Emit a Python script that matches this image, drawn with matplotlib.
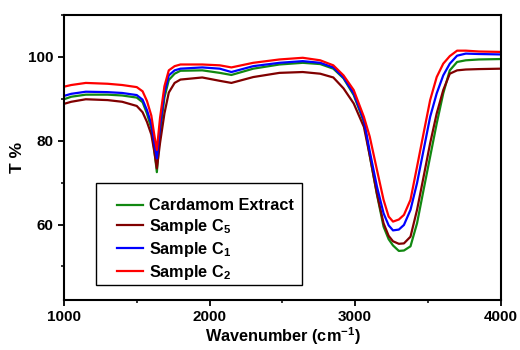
import numpy as np
import matplotlib
matplotlib.use("Agg")
import matplotlib.pyplot as plt
from matplotlib.ticker import MultipleLocator
from matplotlib.patches import Rectangle

plt.rcParams['font.family'] = ['Liberation Sans', 'DejaVu Sans']
plt.rcParams['font.weight'] = 'bold'
plt.rcParams['mathtext.fontset'] = 'custom'
plt.rcParams['mathtext.rm'] = 'Liberation Sans:bold'
plt.rcParams['mathtext.bf'] = 'Liberation Sans:bold'

wavenumber = [1000, 1050, 1150, 1300, 1400, 1500, 1540, 1570, 1600, 1620,
              1638, 1660, 1690, 1720, 1760, 1800, 1950, 2070, 2150, 2300,
              2480, 2640, 2760, 2850, 2920, 2990, 3060, 3100, 3150, 3195,
              3230, 3260, 3300, 3335, 3380, 3425, 3470, 3515, 3560, 3605,
              3650, 3700, 3760, 3850, 4000]

cardamom = [89.9, 90.5, 91.0, 91.0, 90.8, 90.3, 89.2, 86.5, 83.0, 78.0,
            72.5, 82.0, 90.3, 94.5, 96.0, 96.7, 96.8, 96.2, 95.7, 97.2,
            98.2, 98.6, 98.3, 97.2, 94.9, 90.9, 84.5, 76.5, 67.1, 59.5,
            56.5, 55.0, 53.7, 53.8, 54.8, 60.3, 68.3, 76.2, 84.1, 91.3,
            96.8, 98.8, 99.2, 99.4, 99.5]

sample_c5 = [88.8, 89.3, 89.9, 89.7, 89.3, 88.3, 86.8, 84.5, 81.5, 77.5,
             73.4, 79.5, 86.5, 91.5, 93.8, 94.6, 95.1, 94.3, 93.8, 95.2,
             96.2, 96.4, 96.0, 95.1, 92.5, 88.9, 83.3, 76.5, 67.3, 60.3,
             57.3, 56.0, 55.4, 55.5, 57.1, 63.5, 71.4, 79.4, 86.5, 92.1,
             96.0, 96.8, 97.0, 97.1, 97.2]

sample_c1 = [90.7, 91.2, 91.7, 91.6, 91.4, 90.9, 89.8, 87.3, 84.0, 79.5,
             75.8, 83.5, 91.5, 95.6, 96.8, 97.2, 97.5, 97.2, 96.4, 97.8,
             98.6, 99.0, 98.6, 97.5, 95.1, 91.3, 84.9, 77.5, 69.0, 62.7,
             59.8, 58.6, 58.8, 59.9, 63.5, 69.9, 77.8, 85.7, 91.3, 95.6,
             98.4, 100.3, 100.8, 100.7, 100.6]

sample_c2 = [92.9, 93.3, 93.8, 93.6, 93.3, 92.8, 91.8, 89.5, 86.0, 81.5,
             77.8, 85.5, 93.0, 96.8, 97.8, 98.2, 98.2, 98.0, 97.5, 98.6,
             99.4, 99.8, 99.2, 98.0, 95.6, 92.1, 85.7, 81.0, 73.0, 65.9,
             61.9, 60.7, 61.2, 62.3, 65.9, 73.8, 81.8, 89.7, 95.2, 98.4,
             100.2, 101.5, 101.5, 101.3, 101.2]

fig = plt.figure(figsize=(5.2, 3.5), dpi=100)
ax = fig.add_axes([0.123, 0.143, 0.84, 0.814])

ax.plot(wavenumber, cardamom, color='#118811', lw=1.6, label='Cardamom Extract')
ax.plot(wavenumber, sample_c5, color='#800000', lw=1.6, label=r'Sample C$_\mathbf{5}$')
ax.plot(wavenumber, sample_c1, color='#0000ff', lw=1.6, label=r'Sample C$_\mathbf{1}$')
ax.plot(wavenumber, sample_c2, color='#ff0000', lw=1.6, label=r'Sample C$_\mathbf{2}$')

ax.set_xlim(1000, 4000)
ax.set_ylim(42, 110)
ax.xaxis.set_major_locator(MultipleLocator(1000))
ax.xaxis.set_minor_locator(MultipleLocator(500))
ax.yaxis.set_major_locator(MultipleLocator(20))
ax.yaxis.set_minor_locator(MultipleLocator(10))
ax.set_yticks([60, 80, 100])
ax.tick_params(which='major', direction='out', length=4, width=1.3, labelsize=11)
ax.tick_params(which='minor', direction='out', length=2.5, width=1.1)
for s in ax.spines.values():
    s.set_linewidth(1.5)

ax.set_xlabel(r'Wavenumber (cm$^{\mathbf{-1}}$)', fontsize=11.7, fontweight='bold', labelpad=1)
ax.set_ylabel('T %', fontsize=12.5, fontweight='bold', labelpad=2)

# legend frame drawn separately so the entries can sit inset from its left edge
ax.add_patch(Rectangle((0.0726, 0.0526), 0.4724, 0.359, transform=ax.transAxes,
                       fill=False, edgecolor='black', lw=1.0, zorder=5))
leg = ax.legend(loc='upper left', bbox_to_anchor=(0.11, 0.374), fontsize=11.7,
                frameon=False, handlelength=1.6, handletextpad=0.35,
                labelspacing=0.24, borderpad=0.3, borderaxespad=0)
for t in leg.get_texts():
    t.set_fontweight('bold')

plt.savefig('out.png', dpi=100)
